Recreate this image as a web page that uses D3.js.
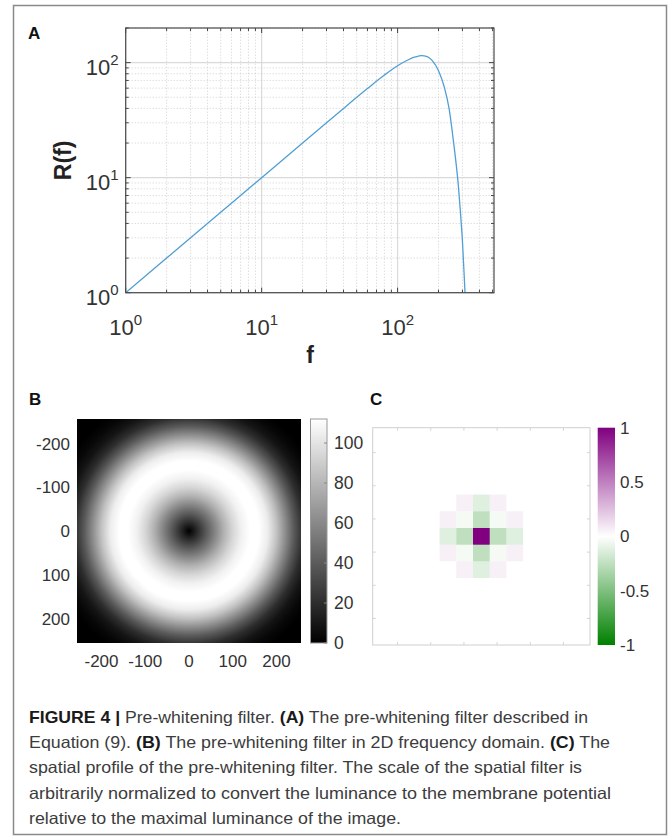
<!DOCTYPE html>
<html>
<head>
<meta charset="utf-8">
<script src="https://cdn.jsdelivr.net/npm/d3@7"></script>
<style>
    body { margin: 0; background: #fff; }
    svg { display: block; font-family: 'Liberation Sans', Arial, sans-serif; }
</style>
</head>
<body>
<svg id="canvas"></svg>
<script>
/** Panel A values */
let freq = [1, 2, 5, 10, 20, 40, 60, 80, 100, 120, 135, 150, 165, 180, 200, 220, 240, 256, 270, 280, 290, 300, 310, 316];
let response = [1, 2, 5, 10, 20, 40, 59.5, 78, 94, 106, 112, 115, 113, 104, 85, 62, 39, 22, 13, 8.5, 5, 2.8, 1.3, 0.8];
let decadeTicks = [1, 10, 100];

/** Panel B radial profile (distance from centre -> level) */
let ringRadius = [0, 20, 40, 60, 80, 100, 120, 140, 160, 180, 200, 220, 240, 260, 280, 300, 320];
let ringLevel = [0, 20, 40, 59, 78, 94, 106, 113, 113, 104, 85, 62, 39, 20, 9, 3, 0];
let freqTicks = [-200, -100, 0, 100, 200];
let grayTicks = [0, 20, 40, 60, 80, 100];

/** Panel C spatial kernel (centre of a 13 x 13 image) */
let kernelRows = [
    [0, 0.06, -0.12, 0.06, 0],
    [0.06, -0.04, -0.25, -0.04, 0.06],
    [-0.12, -0.25, 1, -0.25, -0.12],
    [0.06, -0.04, -0.25, -0.04, 0.06],
    [0, 0.06, -0.12, 0.06, 0]
];
let gridSize = 13;
let spaceTicks = [20, 40, 60, 80, 100, 120];
let kernelTicks = [1, 0.5, 0, -0.5, -1];

let captionLines = [
    [['FIGURE 4 | ', true], ['Pre-whitening filter. ', false], ['(A)', true], [' The pre-whitening filter described in', false]],
    [['Equation (9). ', false], ['(B)', true], [' The pre-whitening filter in 2D frequency domain. ', false], ['(C)', true], [' The', false]],
    [['spatial profile of the pre-whitening filter. The scale of the spatial filter is', false]],
    [['arbitrarily normalized to convert the luminance to the membrane potential', false]],
    [['relative to the maximal luminance of the image.', false]]
];
let captionWidths = [559, 581, 553, 582, 372];

let width = 669;
let height = 837;
let textColor = '#333';

let canvas = d3.select('#canvas').attr('width', width).attr('height', height);
let defs = canvas.append('defs');

const drawFrame = () => {
    canvas.append('rect')
        .attr('x', 13.5).attr('y', 5.5)
        .attr('width', 653).attr('height', 829)
        .attr('fill', 'none').attr('stroke', '#8a8a8a').attr('stroke-width', 1.5);

    [['A', 28, 38.5], ['B', 29, 405], ['C', 370, 405]].forEach(([t, x, y]) => {
        canvas.append('text').attr('x', x).attr('y', y)
            .attr('font-size', 17).attr('font-weight', 'bold').attr('fill', '#111')
            .text(t);
    });
};

/** Panel A: log-log response curve */
const drawPanelA = () => {
    let xScale = d3.scaleLog().domain([1, 512]).range([125.7, 494]);
    let yScale = d3.scaleLog().domain([1, 200]).range([292.7, 28]);
    let [x0, x1] = xScale.range();
    let [y0, y1] = yScale.range();
    let g = canvas.append('g');

    let isMajor = (t) => Math.abs(Math.log10(t) % 1) < 1e-9;

    // grid
    xScale.ticks().forEach((t) => {
        g.append('line')
            .attr('x1', xScale(t)).attr('x2', xScale(t)).attr('y1', y0).attr('y2', y1)
            .attr('stroke', isMajor(t) ? '#dadada' : '#c4c4c4')
            .attr('stroke-dasharray', isMajor(t) ? null : '1,2')
            .attr('stroke-width', isMajor(t) ? 1.2 : 0.8);
    });
    yScale.ticks().forEach((t) => {
        g.append('line')
            .attr('x1', x0).attr('x2', x1).attr('y1', yScale(t)).attr('y2', yScale(t))
            .attr('stroke', isMajor(t) ? '#dadada' : '#c4c4c4')
            .attr('stroke-dasharray', isMajor(t) ? null : '1,2')
            .attr('stroke-width', isMajor(t) ? 1.2 : 0.8);
    });

    // inward ticks on all sides
    xScale.ticks().forEach((t) => {
        let len = isMajor(t) ? 5 : 3;
        g.append('line').attr('x1', xScale(t)).attr('x2', xScale(t)).attr('y1', y0).attr('y2', y0 - len).attr('stroke', '#444');
        g.append('line').attr('x1', xScale(t)).attr('x2', xScale(t)).attr('y1', y1).attr('y2', y1 + len).attr('stroke', '#444');
    });
    yScale.ticks().forEach((t) => {
        let len = isMajor(t) ? 5 : 3;
        g.append('line').attr('x1', x0).attr('x2', x0 + len).attr('y1', yScale(t)).attr('y2', yScale(t)).attr('stroke', '#444');
        g.append('line').attr('x1', x1).attr('x2', x1 - len).attr('y1', yScale(t)).attr('y2', yScale(t)).attr('stroke', '#444');
    });

    // curve
    defs.append('clipPath').attr('id', 'clipA')
        .append('rect').attr('x', x0).attr('y', y1).attr('width', x1 - x0).attr('height', y0 - y1);

    let line = d3.line()
        .x((d, i) => xScale(freq[i]))
        .y((d, i) => yScale(response[i]))
        .curve(d3.curveMonotoneX);

    g.append('path')
        .datum(freq)
        .attr('d', line)
        .attr('clip-path', 'url(#clipA)')
        .attr('fill', 'none')
        .attr('stroke', '#4f9fd4')
        .attr('stroke-width', 1.3);

    g.append('rect')
        .attr('x', x0).attr('y', y1).attr('width', x1 - x0).attr('height', y0 - y1)
        .attr('fill', 'none').attr('stroke', '#4a4a4a').attr('stroke-width', 1.2);

    // tick labels 10^n
    decadeTicks.forEach((t) => {
        let exp = Math.round(Math.log10(t));
        let tx = g.append('text')
            .attr('x', xScale(t)).attr('y', 335)
            .attr('text-anchor', 'middle').attr('fill', textColor).attr('font-size', 22);
        tx.append('tspan').text('10');
        tx.append('tspan').attr('dy', -10).attr('font-size', 15).text(exp);

        let ty = g.append('text')
            .attr('x', 118.5).attr('y', yScale(t) + 12)
            .attr('text-anchor', 'end').attr('fill', textColor).attr('font-size', 22);
        ty.append('tspan').text('10');
        ty.append('tspan').attr('dy', -10).attr('font-size', 15).text(exp);
    });

    g.append('text')
        .attr('x', 310).attr('y', 363)
        .attr('text-anchor', 'middle').attr('font-size', 23).attr('font-weight', 'bold')
        .attr('fill', '#222').text('f');

    g.append('text')
        .attr('transform', `translate(71, ${(y0 + y1) / 2}) rotate(-90)`)
        .attr('text-anchor', 'middle').attr('font-size', 23).attr('font-weight', 'bold')
        .attr('fill', '#222').text('R(f)');
};

/** Panel B: 2D frequency filter with gray colorbar */
const drawPanelB = () => {
    let xScale = d3.scaleLinear().domain([-256, 256]).range([77, 301]);
    let yScale = d3.scaleLinear().domain([-256, 256]).range([419, 643]);
    let grayScale = d3.scaleLinear().domain([0, 112]).range(['#000000', '#ffffff']).clamp(true);
    let g = canvas.append('g');

    let cx = xScale(0);
    let cy = yScale(0);
    let rPx = xScale(d3.max(ringRadius)) - cx;

    let grad = defs.append('radialGradient')
        .attr('id', 'ringGrad')
        .attr('gradientUnits', 'userSpaceOnUse')
        .attr('cx', cx).attr('cy', cy).attr('r', rPx)
        .attr('fx', cx).attr('fy', cy);
    grad.selectAll('stop')
        .data(ringRadius)
        .enter()
        .append('stop')
        .attr('offset', (d) => (xScale(d) - cx) / rPx)
        .attr('stop-color', (d, i) => grayScale(ringLevel[i]));

    g.append('rect')
        .attr('x', xScale(-256)).attr('y', yScale(-256))
        .attr('width', xScale(256) - xScale(-256)).attr('height', yScale(256) - yScale(-256))
        .attr('fill', 'url(#ringGrad)');

    freqTicks.forEach((t) => {
        g.append('text')
            .attr('x', 70).attr('y', yScale(t)).attr('dy', '0.36em')
            .attr('text-anchor', 'end').attr('font-size', 17).attr('fill', textColor)
            .text(t);
        g.append('text')
            .attr('x', xScale(t)).attr('y', 667)
            .attr('text-anchor', 'middle').attr('font-size', 17).attr('fill', textColor)
            .text(t);
    });

    // colorbar
    let barScale = d3.scaleLinear().domain([0, 112]).range([643, 419]);
    let barGrad = defs.append('linearGradient')
        .attr('id', 'grayBar').attr('x1', 0).attr('y1', 1).attr('x2', 0).attr('y2', 0);
    barGrad.selectAll('stop')
        .data(grayScale.domain())
        .enter()
        .append('stop')
        .attr('offset', (d) => d / 112)
        .attr('stop-color', (d) => grayScale(d));

    g.append('rect')
        .attr('x', 310.5).attr('y', barScale(112))
        .attr('width', 16.5).attr('height', barScale(0) - barScale(112))
        .attr('fill', 'url(#grayBar)').attr('stroke', '#9a9a9a').attr('stroke-width', 1);

    grayTicks.forEach((t) => {
        g.append('line')
            .attr('x1', 327).attr('x2', 324).attr('y1', barScale(t)).attr('y2', barScale(t))
            .attr('stroke', '#888');
        g.append('text')
            .attr('x', 334).attr('y', barScale(t)).attr('dy', '0.36em')
            .attr('font-size', 17.5).attr('fill', textColor)
            .text(t);
    });
};

/** Panel C: spatial profile cells with purple/green colorbar */
const drawPanelC = () => {
    let left = 372.7, right = 590, top = 427.7, bottom = 645;
    let cellX = d3.scaleBand().domain(d3.range(gridSize)).range([left, right]);
    let cellY = d3.scaleBand().domain(d3.range(gridSize)).range([top, bottom]);
    let xScale = d3.scaleLinear().domain([5, 136]).range([left, right]);
    let yScale = d3.scaleLinear().domain([5, 136]).range([top, bottom]);
    let colorScale = d3.scaleLinear().domain([-1, 0, 1]).range(['#008000', '#ffffff', '#800080']);
    let g = canvas.append('g');

    let offset = Math.floor(gridSize / 2) - Math.floor(kernelRows.length / 2);
    let cells = [];
    d3.range(gridSize).forEach((r) => {
        d3.range(gridSize).forEach((c) => {
            let kr = r - offset;
            let kc = c - offset;
            let v = (kr >= 0 && kr < kernelRows.length && kc >= 0 && kc < kernelRows.length) ? kernelRows[kr][kc] : 0;
            cells.push({ row: r, col: c, value: v });
        });
    });

    g.selectAll('rect.cell')
        .data(cells)
        .enter()
        .append('rect')
        .attr('class', 'cell')
        .attr('x', (d) => cellX(d.col))
        .attr('y', (d) => cellY(d.row))
        .attr('width', cellX.bandwidth() + 0.3)
        .attr('height', cellY.bandwidth() + 0.3)
        .attr('fill', (d) => colorScale(d.value));

    g.append('rect')
        .attr('x', left).attr('y', top).attr('width', right - left).attr('height', bottom - top)
        .attr('fill', 'none').attr('stroke', '#cfcfcf').attr('stroke-width', 1);

    spaceTicks.forEach((t) => {
        g.append('line').attr('x1', left).attr('x2', left + 3).attr('y1', yScale(t)).attr('y2', yScale(t)).attr('stroke', '#d4d4d4');
        g.append('line').attr('x1', right).attr('x2', right - 3).attr('y1', yScale(t)).attr('y2', yScale(t)).attr('stroke', '#d4d4d4');
        g.append('line').attr('x1', xScale(t)).attr('x2', xScale(t)).attr('y1', top).attr('y2', top + 3).attr('stroke', '#d4d4d4');
        g.append('line').attr('x1', xScale(t)).attr('x2', xScale(t)).attr('y1', bottom).attr('y2', bottom - 3).attr('stroke', '#d4d4d4');
    });

    // colorbar
    let barScale = d3.scaleLinear().domain([-1, 1]).range([bottom, top]);
    let barGrad = defs.append('linearGradient')
        .attr('id', 'kernelBar').attr('x1', 0).attr('y1', 1).attr('x2', 0).attr('y2', 0);
    barGrad.selectAll('stop')
        .data(colorScale.domain())
        .enter()
        .append('stop')
        .attr('offset', (d) => (d + 1) / 2)
        .attr('stop-color', (d) => colorScale(d));

    g.append('rect')
        .attr('x', 597.7).attr('y', barScale(1))
        .attr('width', 17.3).attr('height', barScale(-1) - barScale(1))
        .attr('fill', 'url(#kernelBar)');

    kernelTicks.forEach((t) => {
        g.append('text')
            .attr('x', 620).attr('y', barScale(t)).attr('dy', '0.36em')
            .attr('font-size', 17).attr('fill', textColor)
            .text(t);
    });
};

/** Caption under the figure */
const drawCaption = () => {
    captionLines.forEach((parts, i) => {
        let t = canvas.append('text')
            .attr('x', 29).attr('y', 723 + i * 25.2)
            .attr('font-size', 16.5)
            .attr('textLength', captionWidths[i])
            .attr('lengthAdjust', 'spacingAndGlyphs')
            .attr('fill', '#3c3c3c');
        parts.forEach(([str, bold]) => {
            t.append('tspan')
                .attr('font-weight', bold ? 'bold' : 'normal')
                .attr('fill', bold ? '#1a1a1a' : '#3c3c3c')
                .text(str);
        });
    });
};

drawFrame();
drawPanelA();
drawPanelB();
drawPanelC();
drawCaption();
</script>
</body>
</html>
